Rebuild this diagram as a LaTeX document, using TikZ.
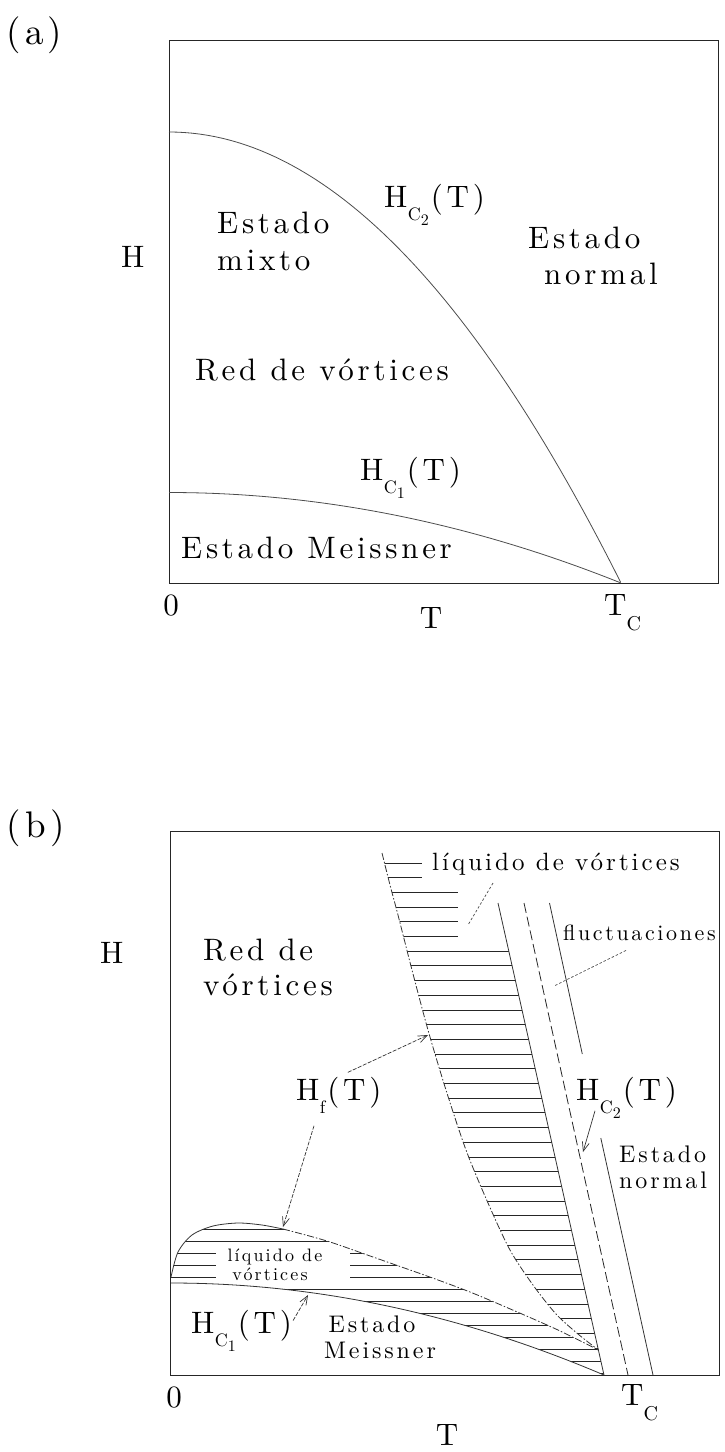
\documentclass[tikz,border=0pt]{standalone}
\usepackage{fontspec}
\newfontfamily\plotfont{lmroman10-regular.otf}[LetterSpace=12]
\usepackage{tikz}
\usetikzlibrary{arrows.meta,calc}
\tikzset{
  frameln/.style={line width=0.9pt, black!85},
  curveln/.style={line width=0.8pt, black!80},
  hfln/.style={line width=0.8pt, black!80, dash pattern=on 7pt off 2pt on 1.5pt off 2pt},
  hcln/.style={line width=0.8pt, black!85, dash pattern=on 10pt off 4pt},
  hatchln/.style={line width=0.9pt, black!85},
  pointer/.style={-{Straight Barb[length=9pt,width=7pt]}, line width=0.7pt, black!80, dash pattern=on 4pt off 1.5pt},
  leader/.style={line width=0.7pt, black!70, dash pattern=on 2.5pt off 2pt},
  lbltag/.style={inner sep=0pt, font=\plotfont\fontsize{37}{42}\selectfont},
  lbl/.style={inner sep=0pt, font=\plotfont\fontsize{31}{36}\selectfont},
  lblmid/.style={inner sep=0pt, font=\plotfont\fontsize{24}{28}\selectfont},
  lblsmall/.style={inner sep=0pt, font=\plotfont\fontsize{#1}{#1}\selectfont},
}
\newcommand{\Hsub}[2]{H\kern0.5pt\raisebox{-0.42em}{\fontsize{18}{18}\selectfont #1}\raisebox{-0.6em}{\fontsize{16}{16}\selectfont #2}\kern2pt(T)}
\newcommand{\Tsub}{T\raisebox{-0.5em}{\fontsize{20}{20}\selectfont C}}

\begin{document}
\begin{tikzpicture}[x=1pt,y=-1pt]
    \useasboundingbox (0,0) rectangle (725,1452);
    % ---------------- panel (a)
    \node[lbltag, anchor=base west] (tagA) at (6,44) {(a)};
    \draw[frameln] (169,40) rectangle (718,583);
    % Hc2 and Hc1
    \draw[curveln, black!70] plot[domain=0:1, samples=60] ({169+452*\x}, {583-451*(1-\x*\x)});
    \draw[curveln, black!70] plot[domain=0:1, samples=60] ({169+452*\x}, {583-90.5*(1-\x*\x)});
    \node[lbl, anchor=base west] (HA) at (121,267) {H};
    \node[lbl, anchor=base west] (mixA1) at (217,233) {Estado};
    \node[lbl, anchor=base west] (mixA2) at (217,270) {mixto};
    \node[lbl, anchor=base west] (hc2A) at (384,207) {\Hsub{C}{2}};
    \node[lbl, anchor=base west] (normA1) at (528,248) {Estado};
    \node[lbl, anchor=base west] (normA2) at (544,284) {normal};
    \node[lbl, anchor=base west] (redA) at (195,380) {Red de vórtices};
    \node[lbl, anchor=base west] (hc1A) at (360,480) {\Hsub{C}{1}};
    \node[lbl, anchor=base west] (meisA) at (181,558) {Estado Meissner};
    \node[lbl, anchor=base] (zeroA) at (171,615) {0};
    \node[lbl, anchor=base] (TA) at (431,628) {T};
    \node[lbl, anchor=base west] (TcA) at (604,615) {\Tsub};

    % ---------------- panel (b)
    \node[lbltag, anchor=base west] (tagB) at (6,837) {(b)};
    \draw[frameln] (170,831) rectangle (719,1375);
    % hatching, upper band
    \begin{scope}
      \clip plot[smooth] coordinates {(382,853) (390,885) (398,915) (412,970) (428,1030) (446,1090)
        (466,1150) (488,1203) (510,1250) (533,1285) (556,1314) (578,1334) (598.4,1350)}
        -- (498,903) -- (498,848) -- cycle;
      \foreach \y in {863,877.7}
        \draw[hatchln] (370,\y) -- (422,\y);
      \foreach \y in {892.4,907.1,921.8,936.5}
        \draw[hatchln] (370,\y) -- (458,\y);
      \foreach \y in {951.2,965.9,...,1350}
        \draw[hatchln] (370,\y) -- (620,\y);
    \end{scope}
    % hatching, lower region
    \begin{scope}
      \clip plot[smooth] coordinates {(171,1277) (178,1252) (192,1235) (213,1226) (238,1223) (262,1225)
        (283,1229) (327,1241) (373,1257) (427,1276) (470,1292) (515,1311) (558,1330) (598.4,1350)}
        -- (604,1375) -- plot[domain=1:0, samples=40] ({171+433*\x}, {1375-92*(1-\x*\x)}) -- cycle;
      \foreach \y in {1229,1241,1289,1301,...,1373}
        \draw[hatchln] (165,\y) -- (620,\y);
      \foreach \y in {1253,1265,1277}
        \draw[hatchln] (165,\y) -- (216,\y) (350,\y) -- (620,\y);
    \end{scope}
    % Hc1 line
    \draw[curveln] plot[domain=0:1, samples=60] ({171+433*\x}, {1375-92*(1-\x*\x)});
    % Hf, lower branch
    \draw[curveln] plot[smooth] coordinates {(171,1277) (178,1252) (192,1235) (213,1226) (238,1223)
      (262,1225) (283,1229)};
    \draw[hfln] plot[smooth] coordinates {(283,1229) (327,1241) (373,1257) (427,1276) (470,1292)
      (515,1311) (558,1330) (598.4,1350)};
    % Hf, upper branch
    \draw[hfln] plot[smooth] coordinates {(382,853) (390,885) (398,915) (412,970) (428,1030) (446,1090)
      (466,1150) (488,1203) (510,1250) (533,1285) (556,1314) (578,1334) (598.4,1350)};
    % three lines down to Tc
    \draw[curveln] (498,903) -- (604,1375);
    \draw[hcln] (524,903) -- (628,1375);
    \draw[curveln] (549.5,903) -- (582.3,1054);
    \draw[curveln] (600.8,1138) -- (653,1375);

    % labels
    \node[lbl, anchor=base west] (HB) at (100,963) {H};
    \node[lbl, anchor=base west] (redB1) at (203,960) {Red de};
    \node[lbl, anchor=base west] (redB2) at (203,995) {vórtices};
    \node[lblsmall=25, anchor=base west] (liqB1) at (432,870) {líquido de vórtices};
    \node[lblsmall=22, anchor=base west] (flucB) at (563,940) {fluctuaciones};
    \node[lbl, anchor=base west] (hfB) at (296,1100) {\Hsub{f}{}};
    \node[lbl, anchor=base west] (hc2B) at (576,1100) {\Hsub{C}{2}};
    \node[lblmid, anchor=base west] (normB1) at (619,1162) {Estado};
    \node[lblmid, anchor=base west] (normB2) at (619,1188) {normal};
    \node[lblsmall=18, anchor=base] (liqB2) at (275,1261) {líquido de};
    \node[lblsmall=18, anchor=base] (liqB3) at (270,1280) {vórtices};
    \node[lbl, anchor=base west] (hc1B) at (191,1333) {\Hsub{C}{1}};
    \node[lblmid, anchor=base] (meisB1) at (372,1332) {Estado};
    \node[lblmid, anchor=base] (meisB2) at (380,1358) {Meissner};
    \node[lbl, anchor=base] (zeroB) at (174,1407) {0};
    \node[lbl, anchor=base] (TB) at (447,1445) {T};
    \node[lbl, anchor=base west] (TcB) at (621,1405) {\Tsub};

    % pointers
    \coordinate (hfTipA) at (428,1035);
    \coordinate (hfTipB) at (283,1227);
    \coordinate (hc2Tip) at (583,1152);
    \coordinate (hc1Tip) at (308,1295);
    \coordinate (liqEnd) at (468,925);
    \coordinate (flucEnd) at (554,986);
    \draw[pointer, shorten <=10pt] (hfB.north) -- (hfTipA);
    \draw[pointer] ($(hfB.south west)+(18,7)$) -- (hfTipB);
    \draw[pointer, dash pattern=] ($(hc2B.south west)+(19,-8)$) -- (hc2Tip);
    \draw[pointer] ($(hc1B.north east)+(1,11)$) -- (hc1Tip);
    \draw[leader] ($(liqB1.south west)+(61,8)$) -- (liqEnd);
    \draw[leader] ($(flucB.south west)+(63,10)$) -- (flucEnd);
\end{tikzpicture}
\end{document}
